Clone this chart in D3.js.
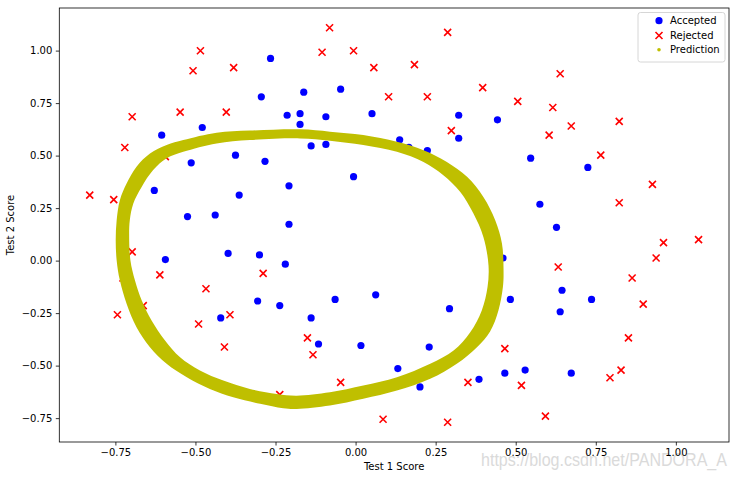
<!DOCTYPE html>
<html>
<head>
<meta charset="utf-8">
<script src="https://cdn.jsdelivr.net/npm/d3@7"></script>
<style>
  html, body { margin: 0; padding: 0; background: #fff; }
  svg { display: block; }
  text { font-family: "DejaVu Sans", sans-serif; }
</style>
</head>
<body>
<svg id="chart" width="735" height="480"></svg>
<script>
// ---- data (ex2data2 microchip tests) ----
const acceptedX = [0.051267,-0.092742,-0.21371,-0.375,-0.51325,-0.52477,-0.39804,-0.30588,0.016705,0.13191,0.38537,0.52938,0.63882,0.73675,0.54666,0.322,0.16647,-0.046659,-0.17339,-0.47869,-0.60541,-0.62846,-0.59389,-0.42108,-0.11578,0.20104,0.46601,0.67339,-0.13882,-0.29435,-0.26555,-0.16187,-0.17339,-0.28283,-0.36348,-0.30012,-0.23675,-0.06394,0.062788,0.22984,0.2932,0.48329,0.64459,0.46025,0.6273,0.57546,0.72523,0.22408,0.44297,0.322,0.13767,-0.0063364,-0.092742,-0.20795,-0.20795,-0.43836,-0.21947,-0.13882];
const acceptedY = [0.69956,0.68494,0.69225,0.50219,0.46564,0.2098,0.034357,-0.19225,-0.40424,-0.51389,-0.56506,-0.5212,-0.24342,-0.18494,0.48757,0.5826,0.53874,0.81652,0.69956,0.63377,0.59722,0.33406,0.005117,-0.27266,-0.39693,-0.60161,-0.53582,-0.53582,0.54605,0.77997,0.96272,0.8019,0.64839,0.47295,0.31213,0.027047,-0.21418,-0.18494,-0.16301,-0.41155,-0.2288,-0.18494,-0.14108,0.012427,0.15863,0.26827,0.44371,0.52412,0.67032,0.69225,0.57529,0.39985,0.55336,0.35599,0.17325,0.21711,-0.016813,-0.27266];

const rejectedX = [0.18376,0.22408,0.29896,0.50634,0.61578,0.60426,0.76555,0.92684,0.82316,0.96141,0.93836,0.86348,0.89804,0.85196,0.82892,0.79435,0.59274,0.51786,0.46601,0.35081,0.28744,0.085829,0.14919,-0.13306,-0.40956,-0.39228,-0.74366,-0.69758,-0.75518,-0.69758,-0.4038,-0.38076,-0.50749,-0.54781,0.10311,0.057028,-0.10464,-0.081221,0.28744,0.39689,0.63882,0.82316,0.67339,1.0709,-0.046659,-0.23675,-0.15035,-0.49021,-0.46717,-0.28859,-0.61118,-0.66302,-0.59965,-0.72638,-0.83007,-0.72062,-0.59389,-0.48445,-0.0063364,0.63265];
const rejectedY = [0.93348,0.77997,0.61915,0.75804,0.7288,0.59722,0.50219,0.3633,0.27558,0.085526,0.012427,-0.082602,-0.20687,-0.36769,-0.5212,-0.55775,-0.7405,-0.5943,-0.41886,-0.57968,-0.76974,-0.75512,-0.57968,-0.4481,-0.41155,-0.25804,-0.25804,0.041667,0.2902,0.68494,0.70687,0.91886,0.90424,0.70687,0.77997,0.91886,0.99196,1.1089,1.087,0.82383,0.88962,0.66301,0.64108,0.10015,-0.57968,-0.63816,-0.36769,-0.3019,-0.13377,-0.060673,-0.067982,-0.21418,-0.41886,-0.082602,0.31213,0.53874,0.49488,0.99927,0.99927,-0.030612];

// Prediction band (decision boundary region), outer and inner edges
const predOuterX = [-0.746,-0.749,-0.746,-0.736,-0.715,-0.684,-0.642,-0.590,-0.538,-0.434,-0.330,-0.173,-0.080,0.024,0.129,0.212,0.285,0.348,0.399,0.436,0.457,0.462,0.460,0.446,0.420,0.379,0.316,0.233,0.129,0.024,-0.080,-0.184,-0.226,-0.298,-0.382,-0.455,-0.527,-0.590,-0.642,-0.684,-0.715,-0.736];
const predOuterY = [0.001,0.097,0.192,0.288,0.367,0.447,0.510,0.550,0.574,0.609,0.619,0.625,0.614,0.598,0.566,0.526,0.470,0.399,0.303,0.192,0.081,-0.046,-0.126,-0.237,-0.337,-0.412,-0.491,-0.563,-0.619,-0.658,-0.690,-0.706,-0.703,-0.682,-0.651,-0.611,-0.555,-0.491,-0.412,-0.317,-0.205,-0.094];
const predInnerX = [-0.703,-0.707,-0.705,-0.694,-0.668,-0.632,-0.590,-0.538,-0.434,-0.330,-0.173,-0.080,0.024,0.129,0.212,0.274,0.327,0.368,0.399,0.415,0.412,0.394,0.358,0.306,0.233,0.129,0.024,-0.080,-0.184,-0.246,-0.330,-0.413,-0.486,-0.548,-0.595,-0.637,-0.668,-0.689];
const predInnerY = [0.001,0.113,0.192,0.272,0.351,0.431,0.487,0.518,0.558,0.574,0.582,0.571,0.550,0.518,0.470,0.407,0.327,0.224,0.113,-0.022,-0.126,-0.237,-0.341,-0.428,-0.491,-0.555,-0.595,-0.627,-0.643,-0.635,-0.611,-0.571,-0.523,-0.460,-0.380,-0.285,-0.189,-0.094];

const xTicks = [-0.75,-0.5,-0.25,0,0.25,0.5,0.75,1.0];
const yTicks = [-0.75,-0.5,-0.25,0,0.25,0.5,0.75,1.0];
const legendLabels = ["Accepted","Rejected","Prediction"];
const xLabel = "Test 1 Score";
const yLabel = "Test 2 Score";
const watermark = "https://blog.csdn.net/PANDORA_A";

// ---- layout ----
const L = 59.3, R = 729, T = 8, B = 442;
const svg = d3.select("#chart");

const xAll = acceptedX.concat(rejectedX), yAll = acceptedY.concat(rejectedY);
const xmin = d3.min(xAll), xmax = d3.max(xAll), ymin = d3.min(yAll), ymax = d3.max(yAll);
const xm = (xmax - xmin) * 0.05, ym = (ymax - ymin) * 0.05;
const x = d3.scaleLinear().domain([xmin - xm, xmax + xm]).range([L, R]);
const y = d3.scaleLinear().domain([ymin - ym, ymax + ym]).range([B, T]);

const blue = "#0000ff", red = "#ff0000", yel = "#bfbf00";

// watermark (behind)
svg.append("text").attr("x", 481).attr("y", 466)
  .attr("font-family", "Liberation Sans, Arial, sans-serif")
  .style("font-family", "'Liberation Sans', Arial, sans-serif")
  .attr("font-size", 19).attr("fill", "#dadada")
  .attr("textLength", 246).attr("lengthAdjust", "spacingAndGlyphs")
  .text(watermark);

const plot = svg.append("g");

// accepted
plot.selectAll("circle.acc").data(acceptedX.map((v, i) => [v, acceptedY[i]]))
  .enter().append("circle").attr("class", "acc")
  .attr("cx", d => x(d[0])).attr("cy", d => y(d[1])).attr("r", 3.6).attr("fill", blue);

// rejected
const xs = 3.5;
plot.selectAll("path.rej").data(rejectedX.map((v, i) => [v, rejectedY[i]]))
  .enter().append("path").attr("class", "rej")
  .attr("d", d => {
    const cx = x(d[0]), cy = y(d[1]);
    return `M${cx - xs},${cy - xs}L${cx + xs},${cy + xs}M${cx - xs},${cy + xs}L${cx + xs},${cy - xs}`;
  })
  .attr("stroke", red).attr("stroke-width", 1.6).attr("fill", "none");

// prediction band
const line = d3.line().x(d => x(d[0])).y(d => y(d[1])).curve(d3.curveCatmullRomClosed.alpha(0.5));
const outer = predOuterX.map((v, i) => [v, predOuterY[i]]);
const inner = predInnerX.map((v, i) => [v, predInnerY[i]]);
plot.append("path").attr("d", line(outer) + line(inner))
  .attr("fill", yel).attr("fill-rule", "evenodd");

// axes
const gx = svg.append("g").attr("transform", `translate(0,${B})`)
  .call(d3.axisBottom(x).tickValues(xTicks).tickFormat(d3.format(".2f")).tickSizeOuter(0).tickSize(3.5).tickPadding(3.5));
const gy = svg.append("g").attr("transform", `translate(${L},0)`)
  .call(d3.axisLeft(y).tickValues(yTicks).tickFormat(d3.format(".2f")).tickSizeOuter(0).tickSize(3.5).tickPadding(3.5));
[gx, gy].forEach(g => {
  g.select(".domain").remove();
  g.selectAll("text").attr("font-size", 10).attr("fill", "#000").style("font-family", "'DejaVu Sans', sans-serif");
  g.selectAll("line").attr("stroke", "#000").attr("stroke-width", 0.8);
});
// frame
svg.append("rect").attr("x", L).attr("y", T).attr("width", R - L).attr("height", B - T)
  .attr("fill", "none").attr("stroke", "#000").attr("stroke-width", 0.8);

// labels
svg.append("text").attr("x", (L + R) / 2).attr("y", 470).attr("text-anchor", "middle")
  .attr("font-size", 10).text(xLabel);
svg.append("text").attr("transform", `translate(14,${(T + B) / 2}) rotate(-90)`).attr("text-anchor", "middle")
  .attr("font-size", 10).text(yLabel);

// legend
const lg = svg.append("g");
lg.append("rect").attr("x", 638).attr("y", 12.5).attr("width", 87).attr("height", 49.5)
  .attr("rx", 2.5).attr("fill", "#fff").attr("fill-opacity", 0.8).attr("stroke", "#cccccc").attr("stroke-width", 0.8);
const ly = [20.7, 35.5, 49.7];
lg.append("circle").attr("cx", 659).attr("cy", ly[0]).attr("r", 3.6).attr("fill", blue);
lg.append("path").attr("d", `M${659 - xs},${ly[1] - xs}L${659 + xs},${ly[1] + xs}M${659 - xs},${ly[1] + xs}L${659 + xs},${ly[1] - xs}`)
  .attr("stroke", red).attr("stroke-width", 1.6);
lg.append("circle").attr("cx", 659).attr("cy", ly[2]).attr("r", 1.8).attr("fill", yel);
legendLabels.forEach((t, i) => {
  lg.append("text").attr("x", 670).attr("y", ly[i]).attr("dy", "0.35em").attr("font-size", 10).text(t);
});
</script>
</body>
</html>
